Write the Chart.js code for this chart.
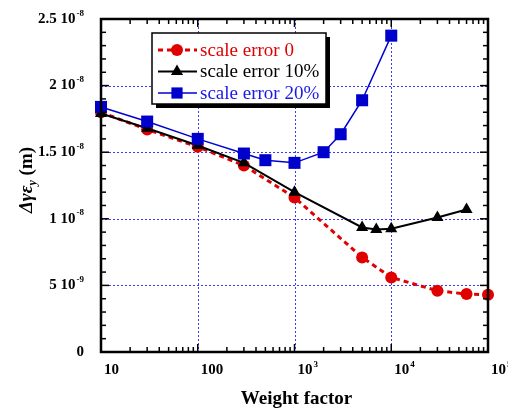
<!DOCTYPE html>
<html>
<head>
<meta charset="utf-8">
<script src="https://cdn.jsdelivr.net/npm/chart.js@4"></script>
<style>
  html, body { margin:0; padding:0; background:#fff; }
  #wrap { width:508px; height:410px; }
</style>
</head>
<body>
<div id="wrap"><canvas id="c" width="508" height="410"></canvas></div>
<script>
// weight factor vs emittance growth, three scale errors
const wf0  = [10, 30, 100, 300, 1000, 5000, 10000, 30000, 60000, 100000];
const err0 = [1.80e-8, 1.67e-8, 1.54e-8, 1.40e-8, 1.16e-8, 0.71e-8, 0.56e-8, 0.46e-8, 0.435e-8, 0.43e-8];

const wf10  = [10, 30, 100, 300, 1000, 5000, 7000, 10000, 30000, 60000];
const err10 = [1.79e-8, 1.68e-8, 1.55e-8, 1.42e-8, 1.20e-8, 0.935e-8, 0.92e-8, 0.925e-8, 1.01e-8, 1.07e-8];

const wf20  = [10, 30, 100, 300, 500, 1000, 2000, 3000, 5000, 10000];
const err20 = [1.84e-8, 1.73e-8, 1.60e-8, 1.49e-8, 1.44e-8, 1.42e-8, 1.50e-8, 1.635e-8, 1.89e-8, 2.375e-8];

const seriesNames = ['scale error 0', 'scale error 10%', 'scale error 20%'];

// tick labels: [base, exponent]
const xTicks = [10, 100, 1000, 10000, 100000];
const xTickLabels = [['10',''], ['100',''], ['10','3'], ['10','4'], ['10','5']];
const yTicks = [0, 5e-9, 1e-8, 1.5e-8, 2e-8, 2.5e-8];
const yTickLabels = [['0',''], ['5 10','-9'], ['1 10','-8'], ['1.5 10','-8'], ['2 10','-8'], ['2.5 10','-8']];

const SERIF = '"Liberation Serif", "Times New Roman", serif';
const pts = (xs, ys) => xs.map((v, i) => ({x: v, y: ys[i]}));

// draw base + raised exponent, aligned by its right or left edge
function supText(ctx, base, exp, x, y, align, size){
  ctx.font = 'bold ' + size + 'px ' + SERIF;
  const wb = ctx.measureText(base).width;
  ctx.font = 'bold ' + Math.round(size*0.62) + 'px ' + SERIF;
  const we = exp ? ctx.measureText(exp).width + 1 : 0;
  let x0 = align === 'right' ? x - wb - we : x;
  ctx.textAlign = 'left';
  ctx.textBaseline = 'middle';
  ctx.font = 'bold ' + size + 'px ' + SERIF;
  ctx.fillText(base, x0, y);
  if(exp){
    ctx.font = 'bold ' + Math.round(size*0.62) + 'px ' + SERIF;
    ctx.fillText(exp, x0 + wb + 1, y - size*0.38);
  }
}

const decor = {
  id:'decor',
  beforeDatasetsDraw(chart){
    const {ctx, chartArea:a, scales:{x, y}} = chart;
    ctx.save();
    ctx.strokeStyle = '#3a3aff'; ctx.lineWidth = 1; ctx.setLineDash([2,2]);
    xTicks.slice(1, -1).forEach(v=>{
      const px = Math.round(x.getPixelForValue(v)) + 0.5;
      ctx.beginPath(); ctx.moveTo(px, a.top); ctx.lineTo(px, a.bottom); ctx.stroke();
    });
    yTicks.slice(1, -1).forEach(v=>{
      const py = Math.round(y.getPixelForValue(v)) + 0.5;
      ctx.beginPath(); ctx.moveTo(a.left, py); ctx.lineTo(a.right, py); ctx.stroke();
    });
    ctx.restore();
  },
  afterDraw(chart){
    const {ctx, chartArea:a, scales:{x, y}} = chart;
    ctx.save();
    ctx.fillStyle = '#000'; ctx.strokeStyle = '#000';

    // inward ticks on all four sides
    ctx.lineWidth = 1.5;
    const tick = (x1, y1, x2, y2) => { ctx.beginPath(); ctx.moveTo(x1, y1); ctx.lineTo(x2, y2); ctx.stroke(); };
    for(let d = 10; d < 100000; d *= 10){
      for(let k = 1; k <= 9; k++){
        const px = x.getPixelForValue(k*d);
        const len = k === 1 ? 8 : 5;
        tick(px, a.bottom, px, a.bottom - len);
        tick(px, a.top, px, a.top + len);
      }
    }
    for(let i = 0; i <= 25; i++){
      const py = y.getPixelForValue(i*1e-9);
      const len = i % 5 === 0 ? 8 : 5;
      tick(a.left, py, a.left + len, py);
      tick(a.right, py, a.right - len, py);
    }

    // frame
    ctx.lineWidth = 2.5;
    ctx.strokeRect(a.left, a.top, a.right - a.left, a.bottom - a.top);

    // tick labels
    xTicks.forEach((v, i)=>{
      const px = x.getPixelForValue(v);
      supText(ctx, xTickLabels[i][0], xTickLabels[i][1], px + 3, a.bottom + 18, 'left', 15);
    });
    yTicks.forEach((v, i)=>{
      const py = y.getPixelForValue(v);
      supText(ctx, yTickLabels[i][0], yTickLabels[i][1], a.left - 17, py, 'right', 15);
    });

    // x title
    ctx.font = 'bold 19px ' + SERIF;
    ctx.textAlign = 'center'; ctx.textBaseline = 'middle';
    ctx.fillText('Weight factor', (a.left + a.right)/2 + 2, 399);

    // y title: Δγε_y (m), rotated
    ctx.save();
    ctx.translate(27, 180);
    ctx.rotate(-Math.PI/2);
    ctx.textBaseline = 'middle'; ctx.textAlign = 'left';
    const fMain = 'italic bold 19px ' + SERIF, fSub = 'italic bold 12px ' + SERIF, fUnit = 'bold 19px ' + SERIF;
    ctx.font = fMain; const w1 = ctx.measureText('\u0394\u03b3\u03b5').width;
    ctx.font = fSub;  const w2 = ctx.measureText('y').width;
    ctx.font = fUnit; const w3 = ctx.measureText(' (m)').width;
    let tx = -(w1 + w2 + w3)/2;
    ctx.font = fMain; ctx.fillText('\u0394\u03b3\u03b5', tx, 0); tx += w1;
    ctx.font = fSub;  ctx.fillText('y', tx, 6); tx += w2;
    ctx.font = fUnit; ctx.fillText(' (m)', tx, 0);
    ctx.restore();

    // legend box with shadow
    const bx = 152, by = 33, bw = 174, bh = 71;
    ctx.fillStyle = '#000';
    ctx.fillRect(bx + 4, by + 4, bw, bh);
    ctx.fillStyle = '#fff';
    ctx.fillRect(bx, by, bw, bh);
    ctx.lineWidth = 1.5; ctx.strokeStyle = '#000';
    ctx.strokeRect(bx, by, bw, bh);
    chart.data.datasets.forEach((ds, i)=>{
      const ly = 50 + i*21.5;
      ctx.strokeStyle = ds.borderColor; ctx.lineWidth = ds.borderWidth;
      ctx.setLineDash(ds.borderDash || []);
      ctx.beginPath(); ctx.moveTo(158, ly); ctx.lineTo(197, ly); ctx.stroke();
      ctx.setLineDash([]);
      ctx.fillStyle = ds.pointBackgroundColor;
      ctx.beginPath();
      const r = ds.legendRadius;
      if(ds.pointStyle === 'circle'){ ctx.arc(177, ly, r, 0, Math.PI*2); }
      else if(ds.pointStyle === 'triangle'){ ctx.moveTo(177, ly - r); ctx.lineTo(177 + r*0.87, ly + r*0.5); ctx.lineTo(177 - r*0.87, ly + r*0.5); ctx.closePath(); }
      else { ctx.rect(177 - r*0.8, ly - r*0.8, r*1.6, r*1.6); }
      ctx.fill();
      ctx.fillStyle = ds.legendText;
      ctx.font = '19px ' + SERIF; ctx.textAlign = 'left'; ctx.textBaseline = 'middle';
      ctx.fillText(ds.label, 200, ly + 1);
    });
    ctx.restore();
  }
};

new Chart(document.getElementById('c'), {
  type:'line',
  data:{
    datasets:[
      { label:seriesNames[0], data:pts(wf0, err0), order:2,
        borderColor:'#e00000', borderWidth:3, borderDash:[5,4],
        pointStyle:'circle', pointRadius:6, pointBackgroundColor:'#e00000', pointBorderWidth:0,
        legendRadius:6, legendText:'#e00000' },
      { label:seriesNames[1], data:pts(wf10, err10), order:1,
        borderColor:'#000000', borderWidth:2,
        pointStyle:'triangle', pointRadius:7, pointBackgroundColor:'#000000', pointBorderWidth:0,
        legendRadius:7, legendText:'#000000' },
      { label:seriesNames[2], data:pts(wf20, err20), order:0,
        borderColor:'#0000d4', borderWidth:1.5,
        pointStyle:'rect', pointRadius:8.5, pointBackgroundColor:'#0000cc', pointBorderWidth:0,
        legendRadius:7, legendText:'#1a1ae6' }
    ]
  },
  options:{
    responsive:false,
    animation:false,
    layout:{ padding:{ top:19, right:20, left:0, bottom:0 } },
    elements:{ line:{ tension:0 } },
    datasets:{ line:{ clip:false } },
    plugins:{ legend:{ display:false }, tooltip:{ enabled:false } },
    scales:{
      x:{ type:'logarithmic', min:10, max:100000,
          grid:{ display:false }, border:{ display:false }, ticks:{ display:false },
          afterFit: s => { s.height = 58; } },
      y:{ type:'linear', min:0, max:2.5e-8,
          grid:{ display:false }, border:{ display:false }, ticks:{ display:false },
          afterFit: s => { s.width = 101; } }
    }
  },
  plugins:[decor]
});
</script>
</body>
</html>
